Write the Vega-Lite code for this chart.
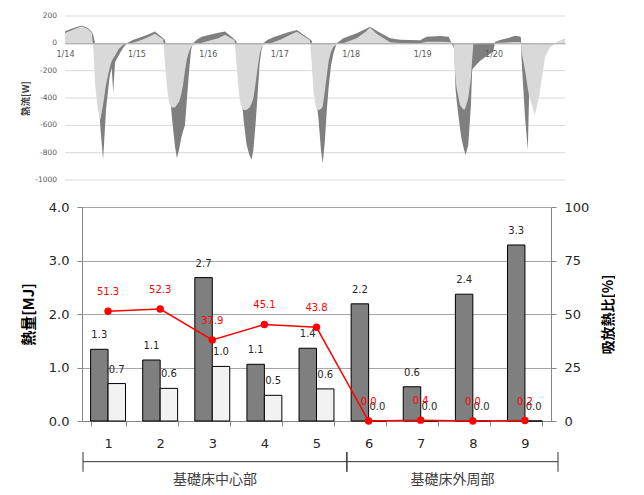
{
  "$schema": "https://vega.github.io/schema/vega-lite/v6.json",
  "padding": {"left": 20, "top": 12, "right": 0, "bottom": 0},
  "background": "white",
  "spacing": 17,
  "config": {
    "view": {"stroke": null},
    "font": "DejaVu Sans",
    "axis": {"labelFont": "DejaVu Sans", "titleFont": "Noto Sans CJK JP", "labelOverlap": false}
  },
  "datasets": {
    "flow": [
      {"h": 0, "L": 75, "D": 88},
      {"h": 2.4, "L": 98, "D": 108},
      {"h": 5.6, "L": 125, "D": 130},
      {"h": 7.7, "L": 105, "D": 112},
      {"h": 9.0, "L": 78, "D": 85},
      {"h": 9.5, "L": -30, "D": 60},
      {"h": 10.1, "L": -300, "D": 0},
      {"h": 11.0, "L": -480, "D": -280},
      {"h": 11.9, "L": -560, "D": -620},
      {"h": 12.8, "L": -450, "D": -850},
      {"h": 13.8, "L": -300, "D": -480},
      {"h": 15.0, "L": -180, "D": -240},
      {"h": 15.7, "L": -130, "D": -180},
      {"h": 16.2, "L": -110, "D": -360},
      {"h": 16.8, "L": -90, "D": -140},
      {"h": 18.1, "L": -40, "D": -85},
      {"h": 19.5, "L": -12, "D": -35},
      {"h": 20.8, "L": -2, "D": 0},
      {"h": 22.8, "L": 5, "D": 25},
      {"h": 25.2, "L": 20, "D": 42},
      {"h": 27.9, "L": 45, "D": 65},
      {"h": 30.2, "L": 70, "D": 86},
      {"h": 33.0, "L": 30, "D": 37},
      {"h": 33.6, "L": -150, "D": 25},
      {"h": 34.3, "L": -330, "D": -80},
      {"h": 35.0, "L": -440, "D": -300},
      {"h": 36.0, "L": -470, "D": -560},
      {"h": 37.0, "L": -470, "D": -760},
      {"h": 37.6, "L": -450, "D": -840},
      {"h": 38.3, "L": -430, "D": -780},
      {"h": 39.0, "L": -380, "D": -700},
      {"h": 39.7, "L": -300, "D": -640},
      {"h": 40.3, "L": -200, "D": -600},
      {"h": 41.0, "L": -110, "D": -400},
      {"h": 41.7, "L": -60, "D": -200},
      {"h": 42.4, "L": -25, "D": -45},
      {"h": 43.0, "L": -15, "D": 0},
      {"h": 44.5, "L": -5, "D": 30},
      {"h": 46.0, "L": 5, "D": 48},
      {"h": 49.0, "L": 22, "D": 65},
      {"h": 51.5, "L": 37, "D": 78},
      {"h": 53.8, "L": 62, "D": 86},
      {"h": 55.5, "L": 40, "D": 55},
      {"h": 57.0, "L": 22, "D": 28},
      {"h": 57.6, "L": -150, "D": 15},
      {"h": 58.3, "L": -330, "D": -80},
      {"h": 59.0, "L": -450, "D": -300},
      {"h": 60.0, "L": -488, "D": -560},
      {"h": 61.0, "L": -488, "D": -740},
      {"h": 62.0, "L": -470, "D": -820},
      {"h": 62.7, "L": -440, "D": -850},
      {"h": 63.3, "L": -400, "D": -780},
      {"h": 64.0, "L": -300, "D": -600},
      {"h": 64.7, "L": -180, "D": -380},
      {"h": 65.4, "L": -80, "D": -150},
      {"h": 66.0, "L": -30, "D": -50},
      {"h": 66.6, "L": -12, "D": 0},
      {"h": 68.0, "L": -3, "D": 25},
      {"h": 70.0, "L": 8, "D": 45},
      {"h": 72.5, "L": 28, "D": 62},
      {"h": 75.0, "L": 55, "D": 82},
      {"h": 77.9, "L": 85, "D": 97},
      {"h": 80.0, "L": 55, "D": 65},
      {"h": 82.3, "L": 22, "D": 30},
      {"h": 82.9, "L": -150, "D": 20},
      {"h": 83.5, "L": -350, "D": -150},
      {"h": 84.3, "L": -470, "D": -380},
      {"h": 85.2, "L": -490, "D": -560},
      {"h": 86.0, "L": -480, "D": -780},
      {"h": 86.6, "L": -460, "D": -880},
      {"h": 87.3, "L": -350, "D": -720},
      {"h": 88.0, "L": -230, "D": -480},
      {"h": 88.6, "L": -130, "D": -320},
      {"h": 89.4, "L": -60, "D": -160},
      {"h": 90.2, "L": -25, "D": -75},
      {"h": 91.3, "L": -8, "D": 0},
      {"h": 93.5, "L": 0, "D": 37},
      {"h": 98.0, "L": 37, "D": 73},
      {"h": 101.0, "L": 85, "D": 105},
      {"h": 102.5, "L": 115, "D": 121},
      {"h": 104.7, "L": 70, "D": 92},
      {"h": 109.2, "L": 8, "D": 37},
      {"h": 112.6, "L": 2, "D": 26},
      {"h": 119.3, "L": 0, "D": 22},
      {"h": 121.5, "L": 12, "D": 48},
      {"h": 126.0, "L": 12, "D": 53},
      {"h": 128.9, "L": 10, "D": 48},
      {"h": 130.5, "L": 0, "D": -29},
      {"h": 130.8, "L": -100, "D": -40},
      {"h": 131.2, "L": -250, "D": -330},
      {"h": 131.6, "L": -330, "D": -420},
      {"h": 132.7, "L": -450, "D": -620},
      {"h": 133.3, "L": -470, "D": -707},
      {"h": 134.1, "L": -488, "D": -780},
      {"h": 134.6, "L": -470, "D": -817},
      {"h": 135.5, "L": -400, "D": -743},
      {"h": 136.4, "L": -250, "D": -450},
      {"h": 136.8, "L": -120, "D": -195},
      {"h": 137.2, "L": -5, "D": -180},
      {"h": 139.4, "L": 0, "D": -130},
      {"h": 141.8, "L": 0, "D": -90},
      {"h": 143.9, "L": 0, "D": -60},
      {"h": 144.5, "L": 3, "D": 10},
      {"h": 146.2, "L": 5, "D": 25},
      {"h": 149.5, "L": 8, "D": 42},
      {"h": 151.2, "L": 10, "D": 55},
      {"h": 152.9, "L": 10, "D": 50},
      {"h": 153.2, "L": 5, "D": 40},
      {"h": 153.4, "L": -60, "D": -120},
      {"h": 153.9, "L": -120, "D": -300},
      {"h": 154.6, "L": -200, "D": -550},
      {"h": 155.5, "L": -330, "D": -780},
      {"h": 155.9, "L": -380, "D": -420},
      {"h": 156.8, "L": -450},
      {"h": 157.9, "L": -525},
      {"h": 159.3, "L": -390},
      {"h": 161.3, "L": -100},
      {"h": 163.0, "L": -30},
      {"h": 164.6, "L": 0},
      {"h": 166.3, "L": 20},
      {"h": 168.0, "L": 37}
    ],
    "flowticks": [
      {"w": -1000}, {"w": -800}, {"w": -600}, {"w": -400}, {"w": -200}, {"w": 0}, {"w": 200}
    ],
    "bars": [
      {"cat": 1, "group": "基礎床中心部", "kind": "A", "mj": 1.34},
      {"cat": 1, "group": "基礎床中心部", "kind": "B", "mj": 0.70},
      {"cat": 2, "group": "基礎床中心部", "kind": "A", "mj": 1.14},
      {"cat": 2, "group": "基礎床中心部", "kind": "B", "mj": 0.61},
      {"cat": 3, "group": "基礎床中心部", "kind": "A", "mj": 2.68},
      {"cat": 3, "group": "基礎床中心部", "kind": "B", "mj": 1.02},
      {"cat": 4, "group": "基礎床中心部", "kind": "A", "mj": 1.06},
      {"cat": 4, "group": "基礎床中心部", "kind": "B", "mj": 0.48},
      {"cat": 5, "group": "基礎床中心部", "kind": "A", "mj": 1.36},
      {"cat": 5, "group": "基礎床中心部", "kind": "B", "mj": 0.60},
      {"cat": 6, "group": "基礎床外周部", "kind": "A", "mj": 2.19},
      {"cat": 6, "group": "基礎床外周部", "kind": "B", "mj": 0.0},
      {"cat": 7, "group": "基礎床外周部", "kind": "A", "mj": 0.64},
      {"cat": 7, "group": "基礎床外周部", "kind": "B", "mj": 0.0},
      {"cat": 8, "group": "基礎床外周部", "kind": "A", "mj": 2.37},
      {"cat": 8, "group": "基礎床外周部", "kind": "B", "mj": 0.0},
      {"cat": 9, "group": "基礎床外周部", "kind": "A", "mj": 3.29},
      {"cat": 9, "group": "基礎床外周部", "kind": "B", "mj": 0.0}
    ],
    "ratio": [
      {"cat": 1, "pct": 51.3},
      {"cat": 2, "pct": 52.3},
      {"cat": 3, "pct": 37.9},
      {"cat": 4, "pct": 45.1},
      {"cat": 5, "pct": 43.8},
      {"cat": 6, "pct": 0.0},
      {"cat": 7, "pct": 0.4},
      {"cat": 8, "pct": 0.0},
      {"cat": 9, "pct": 0.2}
    ],
    "groups": [
      {"group": "基礎床中心部", "from": 0.5, "to": 5.5},
      {"group": "基礎床外周部", "from": 5.5, "to": 9.5}
    ]
  },
  "vconcat": [
    {
      "width": 483,
      "height": 164,
      "layer": [
        {
          "data": {"name": "flowticks"},
          "mark": {"type": "rule", "color": "#d9d9d9", "strokeWidth": 1},
          "encoding": {
            "y": {"field": "w", "type": "quantitative"},
            "x": {"datum": 0},
            "x2": {"datum": 168}
          }
        },
        {
          "data": {"name": "flow"},
          "mark": {"type": "area", "color": "#7f7f7f", "opacity": 1},
          "encoding": {
            "x": {
              "field": "h", "type": "quantitative", "title": null,
              "scale": {"domain": [0, 168], "range": [-17, 483], "nice": false, "zero": false},
              "axis": {
                "orient": "bottom", "offset": -136.67,
                "values": [0, 24, 48, 72, 96, 120, 144],
                "labelExpr": "'1/' + (14 + datum.value / 24)",
                "labelFlush": false, "labelOverlap": false,
                "ticks": false, "grid": false,
                "domainColor": "#a6a6a6", "domainWidth": 1,
                "labelFontSize": 8, "labelColor": "#595959",
                "labelPadding": 7, "zindex": 1
              }
            },
            "y": {
              "field": "D", "type": "quantitative", "title": "熱流[W]",
              "scale": {"domain": [-1000, 200], "nice": false},
              "axis": {
                "values": [-1000, -800, -600, -400, -200, 0, 200],
                "labels": false,
                "grid": false, "offset": 17,
                "domain": false, "ticks": false,
                "titleFontSize": 9.5, "titleFontWeight": "bold", "titleColor": "#404040",
                "titleX": -40, "titleBaseline": "middle", "titleAngle": 270
              }
            },
            "y2": {"datum": 0}
          }
        },
        {
          "data": {"name": "flow"},
          "mark": {"type": "area", "color": "#d9d9d9", "opacity": 1},
          "encoding": {
            "x": {"field": "h", "type": "quantitative", "title": null},
            "y": {"field": "L", "type": "quantitative", "title": "熱流[W]"},
            "y2": {"datum": 0}
          }
        },
        {
          "data": {"name": "flowticks"},
          "mark": {"type": "text", "align": "right", "baseline": "middle", "dx": -8, "fontSize": 7.5, "color": "#595959", "font": "DejaVu Sans"},
          "encoding": {
            "y": {"field": "w", "type": "quantitative"},
            "x": {"datum": 0},
            "text": {"field": "w", "type": "nominal"}
          }
        }
      ]
    },
    {
      "width": 469,
      "height": 214,
      "layer": [
        {
          "data": {"name": "bars"},
          "layer": [
            {
              "mark": {"type": "bar", "stroke": "#000000", "strokeWidth": 1},
              "encoding": {
                "x": {
                  "field": "cat", "type": "ordinal", "title": null,
                  "scale": {"paddingInner": 0.33, "paddingOuter": 0.165},
                  "axis": {
                    "labelAngle": 0, "tickBand": "extent", "tickSize": 5,
                    "tickColor": "#868686", "domainColor": "#868686",
                    "labelFontSize": 13, "labelColor": "#262626", "labelPadding": 11,
                    "grid": false
                  }
                },
                "xOffset": {
                  "field": "kind", "type": "nominal",
                  "scale": {"domain": ["A", "B"], "paddingInner": 0, "paddingOuter": 0}
                },
                "y": {
                  "field": "mj", "type": "quantitative", "title": "熱量[MJ]",
                  "scale": {"domain": [0, 4], "nice": false},
                  "axis": {
                    "values": [0, 1, 2, 3, 4], "format": ".1f",
                    "grid": true, "gridColor": "#a6a6a6",
                    "domainColor": "#868686", "tickColor": "#868686", "tickSize": 5,
                    "labelFontSize": 13, "labelColor": "#262626", "labelPadding": 8,
                    "titleFontSize": 15, "titleFontWeight": "bold", "titleColor": "#000000",
                    "titleX": -54, "titleBaseline": "middle", "titleAngle": 270
                  }
                },
                "color": {
                  "field": "kind", "type": "nominal",
                  "scale": {"domain": ["A", "B"], "range": ["#7f7f7f", "#f2f2f2"]},
                  "legend": null
                }
              }
            },
            {
              "mark": {"type": "text", "dy": -14, "fontSize": 10, "color": "#262626"},
              "encoding": {
                "x": {"field": "cat", "type": "ordinal"},
                "xOffset": {"field": "kind", "type": "nominal"},
                "y": {"field": "mj", "type": "quantitative"},
                "text": {"field": "mj", "type": "quantitative", "format": ".1f"}
              }
            }
          ]
        },
        {
          "data": {"name": "ratio"},
          "layer": [
            {
              "mark": {"type": "line", "color": "#ff0000", "strokeWidth": 1.5},
              "encoding": {
                "x": {
                  "field": "cat", "type": "ordinal",
                  "scale": {"paddingInner": 0.33, "paddingOuter": 0.165},
                  "axis": null
                },
                "y": {
                  "field": "pct", "type": "quantitative", "title": "吸放熱比[%]",
                  "scale": {"domain": [0, 100], "nice": false},
                  "axis": {
                    "orient": "right", "values": [0, 25, 50, 75, 100],
                    "grid": false,
                    "domainColor": "#868686", "tickColor": "#868686", "tickSize": 5,
                    "labelFontSize": 13, "labelColor": "#262626", "labelPadding": 8,
                    "titleFontSize": 14, "titleFontWeight": "bold", "titleColor": "#000000",
                    "titleX": 57, "titleBaseline": "middle", "titleAngle": 270
                  }
                }
              }
            },
            {
              "mark": {"type": "circle", "color": "#ff0000", "size": 55, "opacity": 1},
              "encoding": {
                "x": {"field": "cat", "type": "ordinal"},
                "y": {"field": "pct", "type": "quantitative"}
              }
            },
            {
              "mark": {"type": "text", "dy": -19, "fontSize": 10, "color": "#ff0000"},
              "encoding": {
                "x": {"field": "cat", "type": "ordinal"},
                "y": {"field": "pct", "type": "quantitative"},
                "text": {"field": "pct", "type": "quantitative", "format": ".1f"}
              }
            }
          ]
        },
        {
          "layer": [
            {
              "data": {"name": "groups"},
              "mark": {"type": "rule", "color": "#333333", "strokeWidth": 1},
              "encoding": {
                "x": {
                  "field": "from", "type": "quantitative",
                  "scale": {"domain": [0.5, 9.5], "range": [1, 476], "nice": false, "zero": false},
                  "axis": null
                },
                "y": {"datum": -0.58, "scale": {"domain": [0, 4], "nice": false}, "axis": null},
                "y2": {"datum": -0.95}
              }
            },
            {
              "data": {"name": "groups"},
              "mark": {"type": "rule", "color": "#333333", "strokeWidth": 1},
              "encoding": {
                "x": {"field": "to", "type": "quantitative"},
                "y": {"datum": -0.58},
                "y2": {"datum": -0.95}
              }
            },
            {
              "data": {"name": "groups"},
              "mark": {"type": "rule", "color": "#333333", "strokeWidth": 1},
              "encoding": {
                "x": {"field": "from", "type": "quantitative"},
                "x2": {"field": "to"},
                "y": {"datum": -0.76}
              }
            },
            {
              "data": {"name": "bars"},
              "mark": {"type": "text", "fontSize": 14, "font": "Noto Sans CJK JP", "color": "#404040", "baseline": "middle"},
              "encoding": {
                "x": {"field": "cat", "type": "quantitative", "aggregate": "mean"},
                "y": {"datum": -1.1},
                "text": {"field": "group", "type": "nominal"}
              }
            }
          ]
        }
      ],
      "resolve": {"scale": {"x": "independent", "y": "independent"}}
    }
  ]
}
